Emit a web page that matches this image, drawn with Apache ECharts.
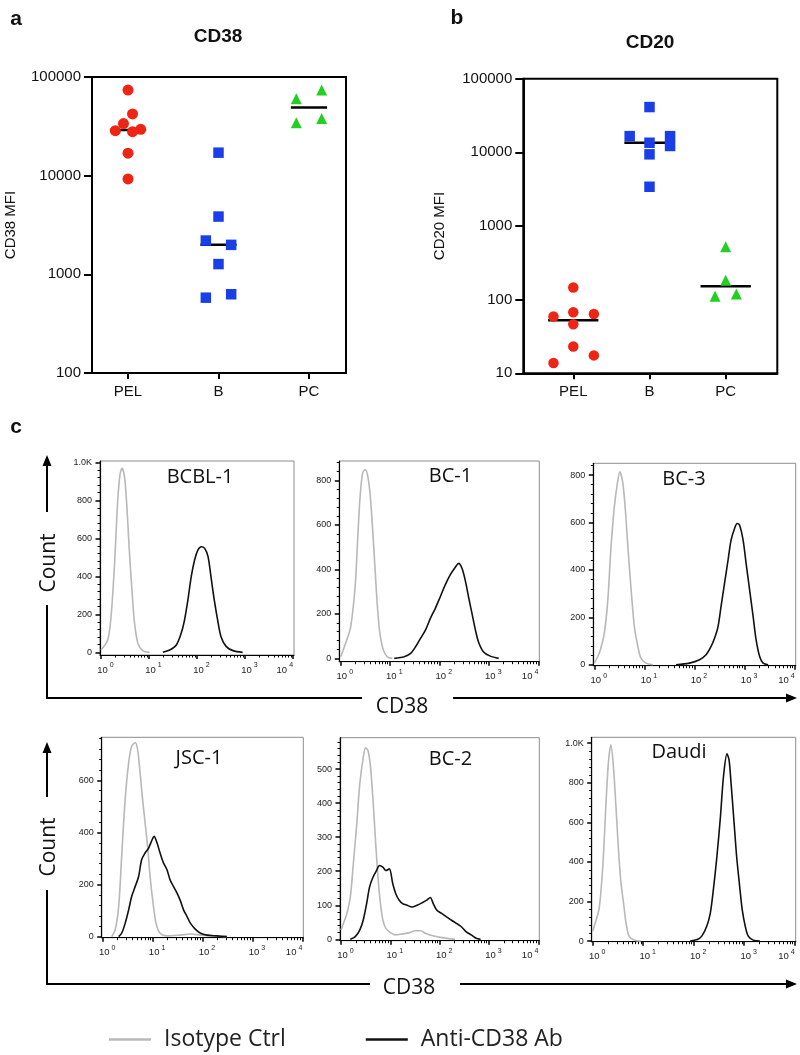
<!DOCTYPE html>
<html><head><meta charset="utf-8">
<script src="https://cdn.jsdelivr.net/npm/echarts@6/dist/echarts.min.js"></script>
<style>html,body{margin:0;padding:0;background:#fff}#c{width:800px;height:1055px}</style>
</head><body><div id="c"></div>
<script>
// ---------------- DATA: panels a / b (MFI per sample) ----------------
const groups = ['PEL', 'B', 'PC'];
const cd38PEL = [73800, 42200, 33700, 28600, 27900, 29500, 16900, 9270];
const cd38B   = [17100, 3850, 2200, 1990, 1270, 580, 628];
const cd38PC  = [60300, 73800, 34400, 37900];
const cd20PEL = [146, 59, 67.6, 64, 46.4, 23.1, 17.5, 13.8];
const cd20B   = [41200, 16600, 16600, 12200, 13500, 9400, 3410];
const cd20PC  = [521, 184, 111, 119];
// horizontal scatter (jitter) of each dot, in category units
const jitCd38PEL = [0, 0.05, -0.05, -0.14, 0.05, 0.14, 0, 0];
const jitCd38B   = [0, 0, -0.14, 0.14, 0, -0.14, 0.14];
const jitCd38PC  = [-0.14, 0.14, -0.14, 0.14];
const jitCd20PEL = [0, -0.26, 0, 0.27, 0, 0, 0.27, -0.26];
const jitCd20B   = [0, -0.26, 0.27, 0.27, 0, 0, 0];
const jitCd20PC  = [0, 0, -0.14, 0.14];

// ---------------- DATA: panel c histograms [log10(CD38), count] ----------------
const bcbl1Iso = [[0.00,12],[0.14,65],[0.21,188],[0.28,451],[0.35,802],[0.40,942],[0.44,968],[0.49,925],[0.54,767],[0.59,539],[0.65,311],[0.70,153],[0.77,47],[0.87,9],[1.01,0]];
const bcbl1Ab  = [[1.29,0],[1.43,12],[1.57,39],[1.67,100],[1.74,170],[1.81,275],[1.88,398],[1.95,486],[2.02,539],[2.09,556],[2.16,547],[2.23,504],[2.30,381],[2.36,275],[2.43,170],[2.50,82],[2.61,30],[2.75,9],[2.95,0]];
const bc1Iso = [[0.01,7],[0.13,82],[0.21,142],[0.30,322],[0.35,532],[0.40,727],[0.45,831],[0.50,849],[0.55,824],[0.60,742],[0.65,592],[0.70,412],[0.75,232],[0.80,112],[0.87,37],[0.95,7],[1.05,0]];
const bc1Ab  = [[1.09,0],[1.29,7],[1.42,22],[1.52,52],[1.62,90],[1.72,127],[1.82,180],[1.92,225],[2.02,277],[2.12,330],[2.22,375],[2.33,412],[2.39,427],[2.46,404],[2.53,345],[2.59,277],[2.66,202],[2.73,127],[2.79,75],[2.89,30],[3.03,10],[3.20,0]];
const bc3Iso = [[0.00,7],[0.07,35],[0.13,70],[0.20,133],[0.27,274],[0.33,484],[0.40,667],[0.47,779],[0.51,814],[0.57,765],[0.62,653],[0.67,498],[0.73,330],[0.80,161],[0.87,77],[0.93,28],[1.03,7],[1.17,0]];
const bc3Ab  = [[1.63,0],[1.90,7],[2.10,21],[2.23,42],[2.33,77],[2.40,112],[2.47,161],[2.53,246],[2.60,344],[2.67,442],[2.73,526],[2.80,575],[2.85,596],[2.90,589],[2.97,526],[3.03,428],[3.10,316],[3.17,204],[3.23,105],[3.30,35],[3.37,7],[3.47,0]];
const jsc1Iso = [[0.18,0],[0.25,26],[0.32,115],[0.38,308],[0.45,526],[0.52,667],[0.58,731],[0.65,744],[0.70,718],[0.75,628],[0.80,526],[0.85,436],[0.90,346],[0.95,231],[1.01,128],[1.07,51],[1.15,13],[1.29,3],[1.55,6],[1.76,10],[1.96,6],[2.22,3],[2.49,0]];
const jsc1Ab  = [[0.32,0],[0.38,13],[0.45,51],[0.52,103],[0.58,154],[0.65,192],[0.72,231],[0.78,295],[0.85,321],[0.92,340],[0.99,372],[1.03,385],[1.09,359],[1.15,321],[1.22,282],[1.29,256],[1.35,218],[1.42,192],[1.49,167],[1.55,141],[1.62,103],[1.69,77],[1.76,51],[1.86,28],[1.96,13],[2.09,6],[2.29,3],[2.49,0]];
const bc2Iso = [[0.00,27],[0.05,47],[0.12,76],[0.19,125],[0.25,222],[0.32,339],[0.38,455],[0.45,533],[0.50,562],[0.55,553],[0.60,504],[0.65,407],[0.70,290],[0.75,183],[0.80,105],[0.85,56],[0.91,32],[1.01,19],[1.11,13],[1.25,16],[1.38,19],[1.51,25],[1.61,25],[1.71,18],[1.84,11],[2.04,5],[2.31,0]];
const bc2Ab  = [[0.19,0],[0.29,8],[0.38,27],[0.45,56],[0.52,105],[0.58,154],[0.65,183],[0.72,202],[0.78,217],[0.85,212],[0.91,202],[0.98,207],[1.05,163],[1.11,134],[1.18,115],[1.25,105],[1.34,100],[1.44,95],[1.54,100],[1.64,107],[1.74,115],[1.81,123],[1.87,105],[1.94,86],[2.04,76],[2.14,66],[2.24,56],[2.34,47],[2.44,37],[2.54,22],[2.64,13],[2.74,3],[2.83,0]];
const daudiIso = [[0.00,50],[0.07,109],[0.13,168],[0.20,378],[0.26,681],[0.31,899],[0.36,992],[0.41,882],[0.46,681],[0.51,462],[0.56,294],[0.61,193],[0.66,92],[0.72,25],[0.82,5],[0.95,0]];
const daudiAb  = [[1.93,0],[2.07,8],[2.16,25],[2.26,76],[2.33,143],[2.39,261],[2.46,429],[2.53,630],[2.59,832],[2.66,946],[2.70,916],[2.74,798],[2.80,597],[2.85,429],[2.91,277],[2.96,160],[3.02,76],[3.08,25],[3.18,5],[3.31,0]];

const cellLines = ['BCBL-1', 'BC-1', 'BC-3', 'JSC-1', 'BC-2', 'Daudi'];
const decadeTicks = [0, 1, 2, 3, 4];
const countTicks1K = [0, 200, 400, 600, 800, 1000];
const countTicks800 = [0, 200, 400, 600, 800];
const countTicks600 = [0, 200, 400, 600];
const countTicks500 = [0, 100, 200, 300, 400, 500];
const legendNames = ['Isotype Ctrl', 'Anti-CD38 Ab'];

// ---------------- BUILD ----------------
const SANS = '"Liberation Sans", Arial, sans-serif';
const OPEN = '"Open Sans", sans-serif';
const RED = '#ee2414', BLUE = '#1a3ee8', GREEN = '#22d022';
const grids = [], xAxes = [], yAxes = [], series = [];

function median(a) { const s = [...a].sort((p, q) => p - q); const n = s.length; return n % 2 ? s[(n - 1) / 2] : (s[n / 2 - 1] + s[n / 2]) / 2; }

function dotPanel(box, yMin, yMax, xMin, xMax, name, nameGap, sets, halfW) {
  const gi = grids.length;
  grids.push({ left: box[0], top: box[1], width: box[2], height: box[3], show: true, borderColor: '#000', borderWidth: 2, containLabel: false, outerBoundsMode: 'none' });
  const xi = xAxes.length, yi = yAxes.length;
  xAxes.push({ gridIndex: gi, type: 'value', min: xMin, max: xMax, position: 'bottom',
    axisLine: { show: true, onZero: false, lineStyle: { color: '#000', width: 2 } },
    axisTick: { show: true, customValues: [1, 2, 3], length: 6, lineStyle: { width: 2, color: '#000' } },
    axisLabel: { customValues: [1, 2, 3], formatter: v => groups[Math.round(v) - 1], fontSize: 15, color: '#111', fontFamily: SANS, margin: 11 },
    splitLine: { show: false } });
  yAxes.push({ gridIndex: gi, type: 'log', logBase: 10, min: yMin, max: yMax, position: 'left',
    axisLine: { show: true, onZero: false, lineStyle: { color: '#000', width: 2 } },
    axisTick: { show: true, length: 8, lineStyle: { width: 2, color: '#000' } },
    axisLabel: { formatter: v => String(Math.round(v)), fontSize: 15, color: '#111', fontFamily: SANS, margin: 11 },
    splitLine: { show: false },
    name: name, nameLocation: 'middle', nameGap: nameGap, nameTextStyle: { fontSize: 15, color: '#111', fontFamily: SANS } });
  sets.forEach((st, k) => {
    const c = k + 1, m = median(st.vals);
    series.push({ type: 'line', xAxisIndex: xi, yAxisIndex: yi, z: 1, symbol: 'none', silent: true,
      lineStyle: { color: '#000', width: 2.5 }, data: [[c - halfW, m], [c + halfW, m]] });
    series.push({ type: 'scatter', xAxisIndex: xi, yAxisIndex: yi, z: 3, symbol: st.sym, symbolSize: st.size,
      itemStyle: { color: st.color, opacity: 1 }, data: st.vals.map((v, i) => [c + st.jit[i], v]) });
  });
}

dotPanel([92, 77, 254, 296], 100, 100000, 0.602, 3.409, 'CD38 MFI', 74, [
  { vals: cd38PEL, jit: jitCd38PEL, sym: 'circle', size: 11, color: RED },
  { vals: cd38B, jit: jitCd38B, sym: 'rect', size: 10.5, color: BLUE },
  { vals: cd38PC, jit: jitCd38PC, sym: 'triangle', size: 11, color: GREEN }], 0.2);
dotPanel([523.3, 78.7, 254, 294.6], 10, 100000, 0.344, 3.677, 'CD20 MFI', 76, [
  { vals: cd20PEL, jit: jitCd20PEL, sym: 'circle', size: 10.5, color: RED },
  { vals: cd20B, jit: jitCd20B, sym: 'rect', size: 10.5, color: BLUE },
  { vals: cd20PC, jit: jitCd20PC, sym: 'triangle', size: 11, color: GREEN }], 0.33);

const logMinor = [];
for (let d = 0; d < 4; d++) for (let k = 2; k <= 9; k++) logMinor.push(d + Math.log10(k));

function histPanel(box, yMin, yMax, majors, minorStep, iso, ab) {
  const gi = grids.length;
  grids.push({ left: box[0], top: box[1], width: box[2], height: box[3], show: true, borderColor: '#8c8c8c', borderWidth: 1, containLabel: false, outerBoundsMode: 'none' });
  const xi = xAxes.length, yi = yAxes.length;
  const lab = { fontSize: 9, color: '#222', fontFamily: SANS };
  xAxes.push({ gridIndex: gi, type: 'value', min: -0.02, max: 4.02, position: 'bottom',
    axisLine: { show: true, onZero: false, lineStyle: { color: '#000', width: 1.2 } },
    axisTick: { show: true, customValues: decadeTicks, length: 4, lineStyle: { color: '#000', width: 1.5 } },
    axisLabel: { customValues: decadeTicks, margin: 7, padding: [0, 0, 0, 9], alignMaxLabel: 'right', formatter: v => '{a|10}{b|' + Math.round(v) + '}',
      rich: { a: { fontSize: 9.5, color: '#222', fontFamily: SANS, verticalAlign: 'bottom' }, b: { fontSize: 7, color: '#222', fontFamily: SANS, verticalAlign: 'bottom', padding: [0, 0, 6, 2] } } },
    splitLine: { show: false } });
  xAxes.push({ gridIndex: gi, type: 'value', min: -0.02, max: 4.02, position: 'bottom',
    axisLine: { show: false, onZero: false }, axisLabel: { show: false },
    axisTick: { show: true, customValues: logMinor, length: 2.5, lineStyle: { color: '#000', width: 1 } },
    splitLine: { show: false } });
  const minors = [];
  for (let v = minorStep; v < yMax; v += minorStep) if (majors.indexOf(v) < 0) minors.push(v);
  yAxes.push({ gridIndex: gi, type: 'value', min: yMin, max: yMax, position: 'left',
    axisLine: { show: true, onZero: false, lineStyle: { color: '#000', width: 1.2 } },
    axisTick: { show: true, customValues: majors, length: 4.5, lineStyle: { color: '#000', width: 1.5 } },
    axisLabel: Object.assign({ customValues: majors, margin: 8, formatter: v => v >= 1000 ? (v / 1000).toFixed(1) + 'K' : String(v) }, lab),
    splitLine: { show: false } });
  yAxes.push({ gridIndex: gi, type: 'value', min: yMin, max: yMax, position: 'left',
    axisLine: { show: false, onZero: false }, axisLabel: { show: false },
    axisTick: { show: true, customValues: minors, length: 2.5, lineStyle: { color: '#000', width: 1 } },
    splitLine: { show: false } });
  series.push({ name: legendNames[0], type: 'line', xAxisIndex: xi, yAxisIndex: yi, showSymbol: false, smooth: 0.3, silent: true,
    itemStyle: { color: '#b8b8b8' }, lineStyle: { color: '#b8b8b8', width: 1.6 }, data: iso });
  series.push({ name: legendNames[1], type: 'line', xAxisIndex: xi, yAxisIndex: yi, showSymbol: false, smooth: 0.3, silent: true,
    itemStyle: { color: '#111' }, lineStyle: { color: '#111', width: 1.6 }, data: ab });
}

histPanel([100, 461, 194, 194], -14, 1007, countTicks1K, 40, bcbl1Iso, bcbl1Ab);
histPanel([339.3, 461, 200, 200.7], -15, 887, countTicks800, 40, bc1Iso, bc1Ab);
histPanel([593.3, 463.3, 202.4, 202.4], -4, 850, countTicks800, 40, bc3Iso, bc3Ab);
histPanel([101.7, 737.3, 201.6, 200.4], -4, 765, countTicks600, 40, jsc1Iso, jsc1Ab);
histPanel([340, 737.7, 199.3, 203], -4, 592, countTicks500, 20, bc2Iso, bc2Ab);
histPanel([591.7, 737.3, 204, 204.4], -3, 1030, countTicks1K, 40, daudiIso, daudiAb);

// ---------------- GRAPHIC (labels, arrows) ----------------
function txt(t, x, y, font, rot) {
  return { type: 'text', x: x, y: y, rotation: rot || 0, silent: true,
    style: { text: t, font: font, fill: '#111', align: 'center', verticalAlign: 'middle' } };
}
function seg(x1, y1, x2, y2) {
  return { type: 'line', silent: true, shape: { x1, y1, x2, y2 }, style: { stroke: '#000', lineWidth: 2 } };
}
function head(pts) {
  return { type: 'polygon', silent: true, shape: { points: pts }, style: { fill: '#000' } };
}
const titleFont = 'bold 19px ' + SANS;
const panelFont = 'bold 21px ' + SANS;
const cellFont = '20px ' + OPEN;
const bigFont = '21px ' + OPEN;
const cellPos = [[200, 477], [450.5, 476], [684, 479], [199, 758], [450.5, 759], [679, 752]];
const graphics = [
  txt('a', 16, 19, panelFont), txt('b', 457, 18, panelFont), txt('c', 16, 427, panelFont),
  txt('CD38', 218, 37, titleFont), txt('CD20', 650, 43, titleFont),
  txt('Count', 49, 563, bigFont, Math.PI / 2), txt('Count', 49, 847, bigFont, Math.PI / 2),
  txt('CD38', 402, 707, bigFont), txt('CD38', 409, 988, bigFont),
  seg(47, 698, 47, 605), seg(47, 512, 47, 462), head([[47, 455], [42.5, 466], [51.5, 466]]),
  seg(46, 698, 362, 698), seg(453, 698, 788, 698), head([[797, 698], [786, 693.5], [786, 702.5]]),
  seg(47, 984, 47, 890), seg(47, 797, 47, 749), head([[47, 742], [42.5, 753], [51.5, 753]]),
  seg(46, 984, 370, 984), seg(460, 984, 788, 984), head([[797, 984], [786, 979.5], [786, 988.5]])
];
cellLines.forEach((n, i) => graphics.push(txt(n, cellPos[i][0], cellPos[i][1], cellFont)));

const chart = echarts.init(document.getElementById('c'), null, { renderer: 'canvas' });
chart.setOption({
  animation: false,
  backgroundColor: '#fff',
  grid: grids, xAxis: xAxes, yAxis: yAxes, series: series,
  legend: { data: legendNames, left: 104, top: 1023, icon: 'rect', itemWidth: 42, itemHeight: 2.5, itemGap: 80,
    selectedMode: false, textStyle: { fontSize: 23, fontFamily: OPEN, color: '#222', padding: [0, 0, 0, 8] } },
  graphic: graphics
});
</script></body></html>
